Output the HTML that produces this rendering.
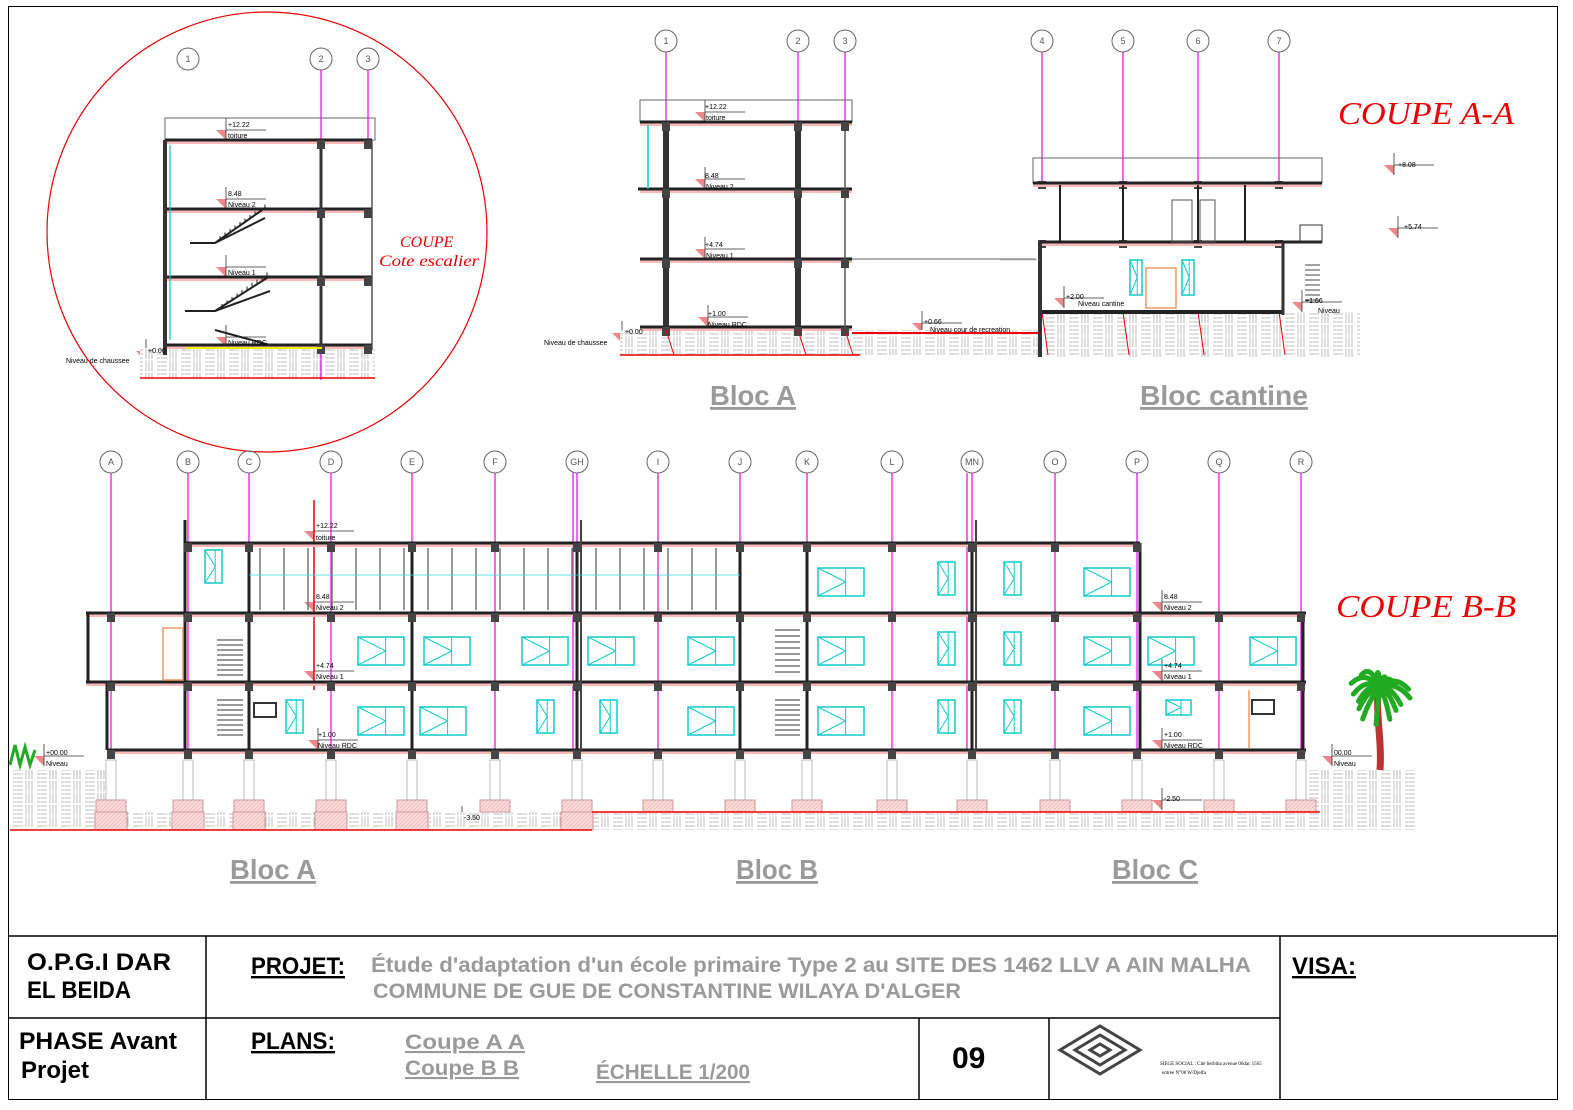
<!DOCTYPE html>
<html><head><meta charset="utf-8"><style>
html,body{margin:0;padding:0;background:#fff}
svg{display:block}
.g{font-family:"Liberation Sans",sans-serif;font-weight:bold;fill:#9a9a9a}
.b{font-family:"Liberation Sans",sans-serif;font-weight:bold;fill:#000}
.r{font-family:"Liberation Serif",serif;font-style:italic;fill:#e00}
.s{font-family:"Liberation Sans",sans-serif;font-size:7px;fill:#000}
.gc{font-family:"Liberation Sans",sans-serif;font-size:9px;fill:#555;text-anchor:middle}
</style></head><body>
<svg id="s" width="1573" height="1110" viewBox="0 0 1573 1110" xmlns="http://www.w3.org/2000/svg">
<defs>
<pattern id="h" width="24" height="12" patternUnits="userSpaceOnUse">
<rect width="24" height="12" fill="#fff"/>
<path d="M2 1v10M5 1v10M8 1v10M13 2h10M13 6h10M13 10h10" stroke="#aaa" stroke-width="0.8"/>
</pattern>
<pattern id="ph" width="4" height="4" patternUnits="userSpaceOnUse">
<rect width="4" height="4" fill="#fbd9d9"/><path d="M0 4L4 0" stroke="#e8a0a0" stroke-width="0.5"/>
</pattern>
</defs>
<rect x="8.5" y="6.5" width="1549" height="1093" fill="none" stroke="#000" stroke-width="1"/>
<g stroke="#000" stroke-width="1.5" fill="none">
<line x1="8" y1="936" x2="1557" y2="936"/>
<line x1="8" y1="1018" x2="1280" y2="1018"/>
<line x1="206" y1="936" x2="206" y2="1099"/>
<line x1="1280" y1="936" x2="1280" y2="1099"/>
<line x1="919" y1="1018" x2="919" y2="1099"/>
<line x1="1049" y1="1018" x2="1049" y2="1099"/>
</g>
<text class="b" x="27" y="970" font-size="24" textLength="144" lengthAdjust="spacingAndGlyphs">O.P.G.I DAR</text>
<text class="b" x="27" y="998" font-size="24" textLength="104" lengthAdjust="spacingAndGlyphs">EL BEIDA</text>
<text class="b" x="19" y="1049" font-size="24" textLength="158" lengthAdjust="spacingAndGlyphs">PHASE Avant</text>
<text class="b" x="21" y="1078" font-size="24">Projet</text>
<text class="b" x="251" y="974" font-size="24" text-decoration="underline" textLength="94" lengthAdjust="spacingAndGlyphs">PROJET:</text>
<text class="g" x="371" y="972" font-size="21" textLength="880" lengthAdjust="spacingAndGlyphs">Étude d'adaptation d'un école primaire Type 2 au SITE DES 1462 LLV A AIN MALHA</text>
<text class="g" x="373" y="998" font-size="21" textLength="588" lengthAdjust="spacingAndGlyphs">COMMUNE DE GUE DE CONSTANTINE  WILAYA D'ALGER</text>
<text class="b" x="1292" y="974" font-size="24" text-decoration="underline" textLength="64" lengthAdjust="spacingAndGlyphs">VISA:</text>
<text class="b" x="251" y="1049" font-size="24" text-decoration="underline" textLength="84" lengthAdjust="spacingAndGlyphs">PLANS:</text>
<text class="g" x="405" y="1049" font-size="21" text-decoration="underline" textLength="120" lengthAdjust="spacingAndGlyphs">Coupe A A</text>
<text class="g" x="405" y="1075" font-size="21" text-decoration="underline" textLength="114" lengthAdjust="spacingAndGlyphs">Coupe B B</text>
<text class="g" x="596" y="1079" font-size="21" text-decoration="underline" textLength="154" lengthAdjust="spacingAndGlyphs">ÉCHELLE 1/200</text>
<text class="b" x="952" y="1068" font-size="30">09</text>
<g fill="none" stroke="#444" stroke-width="3">
<path d="M1060 1050l40-24 40 24-40 24z"/><path d="M1075 1050l25-15 25 15-25 15z"/><path d="M1090 1050l10-6 10 6-10 6z"/>
</g>
<text x="1160" y="1065" font-size="5" font-family="Liberation Serif,serif">SIEGE SOCIAL : Cité berbiha avenue 06dac 1565</text>
<text x="1162" y="1074" font-size="5" font-family="Liberation Serif,serif">entrée N°08 W/Djelfa</text>

<text class="g" x="710" y="405" font-size="28" text-decoration="underline" textLength="86" lengthAdjust="spacingAndGlyphs">Bloc A</text>
<text class="g" x="1140" y="405" font-size="28" text-decoration="underline" textLength="168" lengthAdjust="spacingAndGlyphs">Bloc cantine</text>
<text class="g" x="230" y="879" font-size="28" text-decoration="underline" textLength="86" lengthAdjust="spacingAndGlyphs">Bloc A</text>
<text class="g" x="736" y="879" font-size="28" text-decoration="underline" textLength="82" lengthAdjust="spacingAndGlyphs">Bloc B</text>
<text class="g" x="1112" y="879" font-size="28" text-decoration="underline" textLength="86" lengthAdjust="spacingAndGlyphs">Bloc C</text>
<text class="r" x="1338" y="124" font-size="32" textLength="176" lengthAdjust="spacingAndGlyphs">COUPE A-A</text>
<text class="r" x="1336" y="617" font-size="32" textLength="180" lengthAdjust="spacingAndGlyphs">COUPE B-B</text>
<circle cx="267" cy="232" r="220" fill="none" stroke="#e00" stroke-width="1.2"/>
<text class="r" x="400" y="247" font-size="16">COUPE</text>
<text class="r" x="379" y="266" font-size="16" textLength="100" lengthAdjust="spacingAndGlyphs">Cote escalier</text>

<g id="gen"></g>

<g class="s">
<text x="705" y="109">+12.22</text><text x="706" y="120">toiture</text>
<text x="705" y="178">8.48</text><text x="706" y="189">Niveau 2</text>
<text x="705" y="247">+4.74</text><text x="706" y="258">Niveau 1</text>
<text x="708" y="316">+1.00</text><text x="708" y="327">Niveau RDC</text>
<text x="625" y="334">+0.00</text><text x="544" y="345">Niveau de chaussee</text>
<text x="924" y="324">+0.66</text><text x="930" y="332">Niveau cour de recreation</text>
<text x="1066" y="299">+2.00</text><text x="1078" y="306">Niveau cantine</text>
<text x="1398" y="167">+8.08</text><text x="1404" y="229">+5.74</text>
<text x="1305" y="303">+1.66</text><text x="1318" y="313">Niveau</text>
<text x="228" y="127">+12.22</text><text x="228" y="138">toiture</text>
<text x="228" y="196">8.48</text><text x="228" y="207">Niveau 2</text>
<text x="228" y="275">Niveau 1</text><text x="228" y="345">Niveau RDC</text>
<text x="148" y="353">+0.00</text><text x="66" y="363">Niveau de chaussee</text>
<text x="316" y="528">+12.22</text><text x="316" y="540">toiture</text>
<text x="316" y="599">8.48</text><text x="316" y="610">Niveau 2</text>
<text x="316" y="668">+4.74</text><text x="316" y="679">Niveau 1</text>
<text x="318" y="737">+1.00</text><text x="318" y="748">Niveau RDC</text>
<text x="1164" y="599">8.48</text><text x="1164" y="610">Niveau 2</text>
<text x="1164" y="668">+4.74</text><text x="1164" y="679">Niveau 1</text>
<text x="1164" y="737">+1.00</text><text x="1164" y="748">Niveau RDC</text>
<text x="46" y="755">+00.00</text><text x="46" y="766">Niveau</text>
<text x="1334" y="755">00.00</text><text x="1334" y="766">Niveau</text>
<text x="464" y="820">-3.50</text><text x="1164" y="801">-2.50</text>
</g>
<g class="gc">
<text x="188" y="62">1</text><text x="321" y="62">2</text><text x="368" y="62">3</text>
<text x="666" y="44">1</text><text x="798" y="44">2</text><text x="845" y="44">3</text>
<text x="1042" y="44">4</text><text x="1123" y="44">5</text><text x="1198" y="44">6</text><text x="1279" y="44">7</text>
<text x="111" y="465">A</text><text x="188" y="465">B</text><text x="249" y="465">C</text><text x="331" y="465">D</text><text x="412" y="465">E</text><text x="495" y="465">F</text><text x="577" y="465">GH</text><text x="658" y="465">I</text><text x="740" y="465">J</text><text x="807" y="465">K</text><text x="892" y="465">L</text><text x="972" y="465">MN</text><text x="1055" y="465">O</text><text x="1137" y="465">P</text><text x="1219" y="465">Q</text><text x="1301" y="465">R</text>
</g>
</svg>
<script>
var NS="http://www.w3.org/2000/svg",G=document.getElementById("gen");
function e(t,a){var n=document.createElementNS(NS,t);for(var k in a)n.setAttribute(k,a[k]);G.appendChild(n);return n}
function L(x1,y1,x2,y2,c,w){e("line",{x1:x1,y1:y1,x2:x2,y2:y2,stroke:c,"stroke-width":w||1})}
function R(x,y,w,h,f,s,sw){e("rect",{x:x,y:y,width:w,height:h,fill:f||"none",stroke:s||"none","stroke-width":sw||1})}
function slab(x1,x2,y){R(x1,y+1,x2-x1,3,"#fbbaba");L(x1,y,x2,y,"#222",3)}
function win(x,y,w,h){R(x,y,w,h,"none","#1cc",1.5);L(x,y,x+w*0.6,y+h/2,"#1cc",1);L(x,y+h,x+w*0.6,y+h/2,"#1cc",1);L(x+w*0.6,y,x+w*0.6,y+h,"#1cc",1)}
function gc(x,y){e("circle",{cx:x,cy:y,r:11,fill:"none",stroke:"#666","stroke-width":1})}
function tri(x,y){e("path",{d:"M"+(x-10)+" "+(y-10)+"h10l0 10z",fill:"#e88"});L(x,y-22,x,y,"#333",0.8);L(x,y-10,x+40,y-10,"#333",0.8)}
[[705,122],[705,189],[705,259],[708,327],[622,343],[922,333],[1064,308],[1394,175],[1398,238],[1302,312],[226,140],[226,209],[226,277],[226,347],[146,361],[314,541],[314,612],[314,681],[318,750],[1162,612],[1162,681],[1162,750],[44,766],[1332,766],[462,828],[1162,810]].forEach(function(p){tri(p[0],p[1])});
R(620,330,420,25,"url(#h)");R(1040,312,320,45,"url(#h)");
R(140,348,235,30,"url(#h)");
R(10,770,95,60,"url(#h)");R(1305,770,110,60,"url(#h)");R(95,812,1220,18,"url(#h)");
[666,798,845].forEach(function(x){gc(x,41);L(x,52,x,122,"#e0e",1.2)});
L(666,52,666,330,"#e0e",1);
R(640,100,212,22,"none","#666",1);
[122,189,259,327].forEach(function(y){slab(640,852,y)});
[666,798].forEach(function(x){R(x-3,122,6,210,"#333")});
L(845,122,845,330,"#555",1.5);L(638,189,660,189,"#222",3);L(648,125,648,189,"#0cc",1.5);
[666,798,845].forEach(function(x){[122,189,259,327].forEach(function(y){R(x-4,y,8,9,"#444")});L(x,330,x+8,355,"#e00",1)});
L(620,355,860,355,"#e00",1.5);L(852,333,1038,333,"#e00",2);L(852,259,1036,259,"#666",1);
[1042,1123,1198,1279].forEach(function(x){gc(x,41);L(x,52,x,183,"#e0e",1.2);R(x-4,181,8,8,"#444");R(x-4,240,8,8,"#444");L(x,312,x+6,355,"#e00",1)});
R(1033,158,289,25,"none","#666",1);
slab(1033,1322,183);slab(1040,1283,242);
L(1040,312,1283,312,"#222",4);L(1040,242,1040,357,"#333",4);L(1283,242,1283,315,"#333",3);
[1060,1123,1198,1245].forEach(function(x){L(x,185,x,242,"#222",2)});
R(1172,200,20,42,"none","#555");R(1200,200,15,42,"none","#555");
win(1130,260,12,35);win(1182,260,12,35);R(1146,268,30,40,"none","#e96",1.5);
L(1283,242,1322,242,"#222",3);R(1300,225,22,17,"none","#333");
for(var i=0;i<8;i++)L(1305,265+i*5,1320,265+i*5,"#444",1);
L(1000,260,1040,260,"#999",0.5);
[[188,59],[321,59],[368,59]].forEach(function(g){gc(g[0],g[1])});
L(321,70,321,380,"#e0e",1.2);L(368,70,368,140,"#e0e",1.2);
R(165,118,210,22,"none","#666",1);
[140,209,277,345].forEach(function(y){slab(165,372,y)});
L(165,140,165,355,"#333",4);L(170,145,170,340,"#0cc",1.2);L(321,140,321,348,"#333",3);L(372,140,372,350,"#555",1.5);
[321,368].forEach(function(x){[140,209,277,345].forEach(function(y){R(x-4,y,8,9,"#444")})});
e("path",{d:"M190 243h25l50-35 M215 243l50 -25 M185 311h30l55-35 M215 311l55-20 M215 330l55 15",stroke:"#222","stroke-width":2,fill:"none"});
for(var i=0;i<10;i++){L(220+i*5,240-i*3.5,220+i*5,236-i*3.5,"#222",1);L(222+i*5,308-i*3.5,222+i*5,304-i*3.5,"#222",1)}
L(186,348,322,348,"#ee0",2);L(140,378,375,378,"#e00",1.5);
var gx=[111,188,249,331,412,495,577,658,740,807,892,972,1055,1137,1219,1301];
gx.forEach(function(x){gc(x,462);L(x,473,x,750,"#e0e",1.2)});
L(573,473,573,750,"#e0e",1.2);L(967,473,967,750,"#e0e",1.2);
L(314,500,314,690,"#e00",1.5);
slab(185,1140,543);slab(86,1306,613);slab(86,1306,682);slab(107,1306,750);
L(185,520,185,613,"#222",3);L(88,613,88,682,"#222",3);L(107,682,107,750,"#222",3);L(1303,613,1303,750,"#222",3);L(1140,543,1140,613,"#222",2);
[185,249,412,577,740,807,972,1140].forEach(function(x){L(x,543,x,750,"#222",3)});
L(581,520,581,750,"#444",2);L(976,520,976,750,"#444",2);
for(var x=260;x<740;x+=24){L(x,548,x,610,"#777",1.5)}
L(249,575,740,575,"#3dd",0.8);
gx.concat([577,972]).forEach(function(x){[543,613,682,750].forEach(function(y){if(y==543&&(x<185||x>1140))return;R(x-4,y,8,9,"#444")})});
win(205,550,17,33);win(358,637,46,28);win(424,637,46,28);win(522,637,46,28);win(588,637,46,28);win(688,637,46,28);win(818,637,46,28);win(938,632,17,33);win(1004,632,17,33);win(1084,637,46,28);win(1148,637,46,28);win(1250,637,46,28);
win(818,568,46,28);win(938,562,17,33);win(1004,562,17,33);win(1084,568,46,28);
win(286,700,17,33);win(358,707,46,28);win(420,707,46,28);win(537,700,17,33);win(600,700,17,33);win(688,707,46,28);win(818,707,46,28);win(938,700,17,33);win(1004,700,17,33);win(1084,707,46,28);win(1166,700,25,15);
R(254,703,22,14,"none","#333",2);R(1252,700,22,14,"none","#333",2);R(163,628,20,52,"none","#e96",1.5);L(1249,690,1249,748,"#e96",1.5);
for(var i=0;i<8;i++){L(217,640+i*5,243,640+i*5,"#333",1);L(217,700+i*5,243,700+i*5,"#333",1);L(775,630+i*6,800,630+i*6,"#333",1);L(775,700+i*5,800,700+i*5,"#333",1)}
gx.concat([577,972]).forEach(function(x){R(x-5,760,10,40,"none","#bbb");R(x-15,800,30,12,"url(#ph)","#c99")});
[111,188,249,331,412,577].forEach(function(x){R(x-16,812,32,18,"url(#ph)","#c99")});
L(10,830,592,830,"#e00",1.5);L(592,812,1320,812,"#e00",1.5);
e("path",{d:"M1378 690c-2 30 4 50 2 80",stroke:"#b33",fill:"none","stroke-width":7});
for(var a=0;a<360;a+=24){var r=a*Math.PI/180,len=30+8*Math.sin(a);e("path",{d:"M1380 688q"+(Math.cos(r)*len/2)+" "+(Math.sin(r)*len/2-8)+" "+(Math.cos(r)*len)+" "+(Math.sin(r)*len*0.7+10),stroke:"#2a2","stroke-width":5,fill:"none","stroke-linecap":"round"})}
e("path",{d:"M10 765l5-20 5 20 5-18 5 18 5-15",stroke:"#2a2","stroke-width":3,fill:"none"});
</script>
</body></html>
